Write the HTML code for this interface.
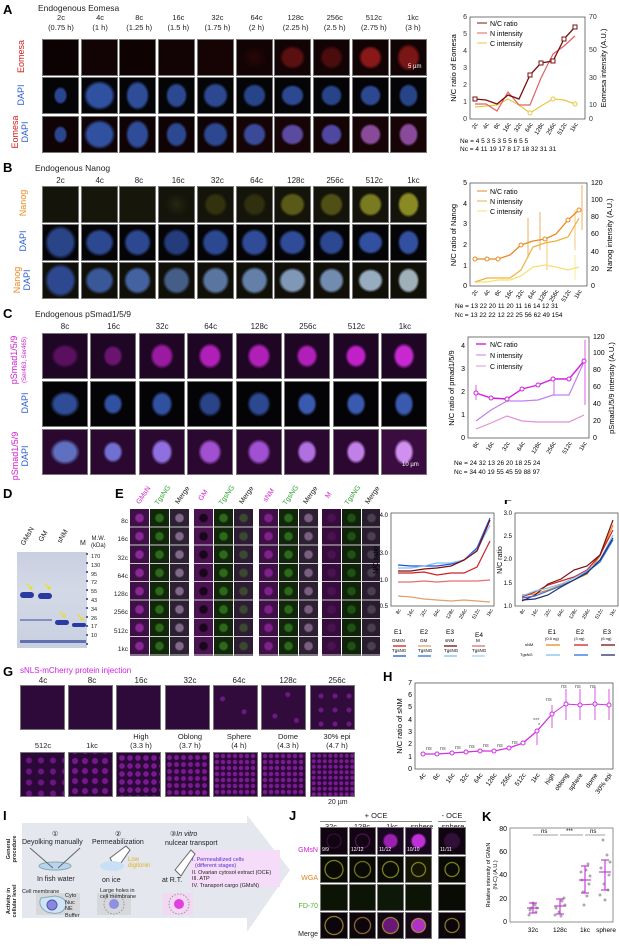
<!DOCTYPE html>
<html><head><meta charset="utf-8"><style>
*{margin:0;padding:0;box-sizing:border-box}
body{width:619px;height:939px;background:#fff;position:relative;overflow:hidden;font-family:"Liberation Sans",sans-serif;color:#222}
.a{position:absolute}
.L{position:absolute;font-weight:bold;font-size:13px;color:#000}
.h{position:absolute;font-size:8px;text-align:center;white-space:nowrap}
.t{position:absolute;background:#080808;border:0.5px solid #777}
.v{position:absolute;transform:rotate(-90deg);transform-origin:center;font-size:9px;white-space:nowrap;text-align:center}
svg text{font-family:"Liberation Sans",sans-serif}
</style></head><body>

<!-- ===== A ===== -->
<div class="L" style="left:3px;top:2px">A</div>
<div class="h" style="left:38px;top:3px;font-size:8.5px">Endogenous Eomesa</div>
<div class="h" style="left:42px;top:13px;width:390px;display:flex;justify-content:space-between;font-size:7.5px;line-height:10px"><span style="width:38px">2c<br>(0.75 h)</span><span style="width:38px">4c<br>(1 h)</span><span style="width:38px">8c<br>(1.25 h)</span><span style="width:38px">16c<br>(1.5 h)</span><span style="width:38px">32c<br>(1.75 h)</span><span style="width:38px">64c<br>(2 h)</span><span style="width:38px">128c<br>(2.25 h)</span><span style="width:38px">256c<br>(2.5 h)</span><span style="width:38px">512c<br>(2.75 h)</span><span style="width:38px">1kc<br>(3 h)</span></div>
<div class="v" style="left:5px;top:52px;width:32px;color:#d02020">Eomesa</div>
<div class="v" style="left:5px;top:90px;width:32px;color:#3060d0">DAPI</div>
<div class="v" style="left:0px;top:122px;width:40px;line-height:10px"><span style="color:#d02020">Eomesa</span><br><span style="color:#3060d0">DAPI</span></div>
<!-- row1 -->
<div class="t" style="left:42px;top:39px;width:37px;height:37px;background:#0d0203"></div>
<div class="t" style="left:81px;top:39px;width:37px;height:37px;background:#120304"></div>
<div class="t" style="left:119px;top:39px;width:37px;height:37px;background:#0f0203"></div>
<div class="t" style="left:158px;top:39px;width:37px;height:37px;background:#120304"></div>
<div class="t" style="left:197px;top:39px;width:37px;height:37px;background:#160405"></div>
<div class="t" style="left:236px;top:39px;width:37px;height:37px;background:radial-gradient(ellipse 13px 12px,#2a0707,#120304)"></div>
<div class="t" style="left:274px;top:39px;width:37px;height:37px;background:radial-gradient(ellipse 13px 12px,#5a1010 70%,#120304)"></div>
<div class="t" style="left:313px;top:39px;width:37px;height:37px;background:radial-gradient(ellipse 12px 12px,#4a0c0c 70%,#120304)"></div>
<div class="t" style="left:352px;top:39px;width:37px;height:37px;background:radial-gradient(ellipse 12px 12px,#8a1818 70%,#120304)"></div>
<div class="t" style="left:390px;top:39px;width:37px;height:37px;background:radial-gradient(ellipse 12px 14px,#7a1616 70%,#120304)"></div>
<!-- row2 DAPI -->
<div class="t" style="left:42px;top:77px;width:37px;height:37px;background:radial-gradient(ellipse 7px 9px,#2a4590 70%,#050508)"></div>
<div class="t" style="left:81px;top:77px;width:37px;height:37px;background:radial-gradient(ellipse 16px 15px,#3050a0 75%,#050508)"></div>
<div class="t" style="left:119px;top:77px;width:37px;height:37px;background:radial-gradient(ellipse 12px 15px,#2e4c98 75%,#050508)"></div>
<div class="t" style="left:158px;top:77px;width:37px;height:37px;background:radial-gradient(ellipse 11px 13px,#2c4890 75%,#050508)"></div>
<div class="t" style="left:197px;top:77px;width:37px;height:37px;background:radial-gradient(ellipse 13px 13px,#2c4890 75%,#050508)"></div>
<div class="t" style="left:236px;top:77px;width:37px;height:37px;background:radial-gradient(ellipse 12px 12px,#284488 75%,#050508)"></div>
<div class="t" style="left:274px;top:77px;width:37px;height:37px;background:radial-gradient(ellipse 12px 11px,#2c4890 75%,#050508)"></div>
<div class="t" style="left:313px;top:77px;width:37px;height:37px;background:radial-gradient(ellipse 11px 11px,#284488 75%,#050508)"></div>
<div class="t" style="left:352px;top:77px;width:37px;height:37px;background:radial-gradient(ellipse 11px 11px,#2c4890 75%,#050508)"></div>
<div class="t" style="left:390px;top:77px;width:37px;height:37px;background:radial-gradient(ellipse 10px 12px,#284488 75%,#050508)"></div>
<!-- row3 merge -->
<div class="t" style="left:42px;top:116px;width:37px;height:37px;background:radial-gradient(ellipse 7px 9px,#2a4590 70%,#100305)"></div>
<div class="t" style="left:81px;top:116px;width:37px;height:37px;background:radial-gradient(ellipse 16px 15px,#3050a0 75%,#100305)"></div>
<div class="t" style="left:119px;top:116px;width:37px;height:37px;background:radial-gradient(ellipse 12px 15px,#2e4c98 75%,#100305)"></div>
<div class="t" style="left:158px;top:116px;width:37px;height:37px;background:radial-gradient(ellipse 11px 13px,#2c4890 75%,#100305)"></div>
<div class="t" style="left:197px;top:116px;width:37px;height:37px;background:radial-gradient(ellipse 13px 13px,#2c4890 75%,#100305)"></div>
<div class="t" style="left:236px;top:116px;width:37px;height:37px;background:radial-gradient(ellipse 12px 12px,#3a4a98 75%,#140406)"></div>
<div class="t" style="left:274px;top:116px;width:37px;height:37px;background:radial-gradient(ellipse 12px 11px,#5a4aa0 75%,#160406)"></div>
<div class="t" style="left:313px;top:116px;width:37px;height:37px;background:radial-gradient(ellipse 11px 11px,#5048a0 75%,#140406)"></div>
<div class="t" style="left:352px;top:116px;width:37px;height:37px;background:radial-gradient(ellipse 11px 11px,#8a4a9a 75%,#160406)"></div>
<div class="t" style="left:390px;top:116px;width:37px;height:37px;background:radial-gradient(ellipse 10px 12px,#8a4a9a 75%,#160406)"></div>
<div class="h" style="left:408px;top:64px;color:#fff;font-size:6px">5 µm</div>

<svg class="a" style="left:440px;top:10px" width="179" height="150">
 <g transform="translate(-440,-10)" font-size="7">
 <rect x="470" y="17" width="115" height="102" fill="none" stroke="#555" stroke-width="0.8"/>
 <g text-anchor="end" fill="#333"><text x="467" y="121">0</text><text x="467" y="104">1</text><text x="467" y="87">2</text><text x="467" y="70">3</text><text x="467" y="53">4</text><text x="467" y="36">5</text><text x="467" y="19">6</text></g>
 <g fill="#333"><text x="589" y="121">0</text><text x="589" y="107">10</text><text x="589" y="80">30</text><text x="589" y="52">50</text><text x="589" y="19">70</text></g>
 <text transform="translate(456,68) rotate(-90)" text-anchor="middle" font-size="7.5">N/C ratio of Eomesa</text>
 <text transform="translate(606,68) rotate(-90)" text-anchor="middle" font-size="7.5">Eomesa intensity (A.U.)</text>
 <polyline fill="none" stroke="#e8c840" stroke-width="1.2" points="475,107 486,106 497,105 508,99 519,105 530,113 541,106 553,99 564,100 575,104"/>
 <polyline fill="none" stroke="#e06060" stroke-width="1.2" points="475,104 486,104 497,111 508,92 519,105 530,105 541,78 553,54 564,46 575,36"/>
 <polyline fill="none" stroke="#7a1010" stroke-width="1.3" points="475,99 486,100 497,104 508,95 519,99 530,75 541,63 553,61 564,39 575,27"/>
 <g fill="#fff" stroke="#7a1010"><rect x="473" y="97" width="4" height="4"/><rect x="528" y="73" width="4" height="4"/><rect x="539" y="61" width="4" height="4"/><rect x="551" y="59" width="4" height="4"/><rect x="562" y="37" width="4" height="4"/><rect x="573" y="25" width="4" height="4"/></g>
 <g fill="#fff" stroke="#e8c840"><circle cx="530" cy="113" r="2"/><circle cx="553" cy="99" r="2"/><circle cx="575" cy="104" r="2"/></g>
 <line x1="477" y1="23" x2="487" y2="23" stroke="#7a1010"/><text x="490" y="26">N/C ratio</text>
 <line x1="477" y1="33" x2="487" y2="33" stroke="#e06060"/><text x="490" y="36">N intensity</text>
 <line x1="477" y1="43" x2="487" y2="43" stroke="#e8c840"/><text x="490" y="46">C intensity</text>
 <g font-size="6" text-anchor="end"><text transform="translate(478,124) rotate(-60)">2c</text><text transform="translate(489,124) rotate(-60)">4c</text><text transform="translate(500,124) rotate(-60)">8c</text><text transform="translate(511,124) rotate(-60)">16c</text><text transform="translate(522,124) rotate(-60)">32c</text><text transform="translate(533,124) rotate(-60)">64c</text><text transform="translate(544,124) rotate(-60)">128c</text><text transform="translate(556,124) rotate(-60)">256c</text><text transform="translate(567,124) rotate(-60)">512c</text><text transform="translate(578,124) rotate(-60)">1kc</text></g>
 <text x="460" y="143" font-size="6.5">Ne = 4   5   3   5   3   5   5   6   5   5</text>
 <text x="460" y="151" font-size="6.5">Nc = 4  11 19 17  8  17 18 32 31 31</text>
 </g>
</svg>

<!-- ===== B ===== -->
<div class="L" style="left:3px;top:160px">B</div>
<div class="h" style="left:35px;top:163px;font-size:8.5px">Endogenous Nanog</div>
<div class="h" style="left:42px;top:176px;width:390px;display:flex;justify-content:space-between;font-size:8px"><span style="width:37px">2c</span><span style="width:37px">4c</span><span style="width:37px">8c</span><span style="width:37px">16c</span><span style="width:37px">32c</span><span style="width:37px">64c</span><span style="width:37px">128c</span><span style="width:37px">256c</span><span style="width:37px">512c</span><span style="width:37px">1kc</span></div>
<div class="v" style="left:7px;top:198px;width:32px;color:#e88a20">Nanog</div>
<div class="v" style="left:7px;top:236px;width:32px;color:#3060d0">DAPI</div>
<div class="v" style="left:2px;top:270px;width:40px;line-height:10px"><span style="color:#e88a20">Nanog</span><br><span style="color:#3060d0">DAPI</span></div>
<div class="t" style="left:42px;top:186px;width:37px;height:37px;background:#14140a"></div>
<div class="t" style="left:81px;top:186px;width:37px;height:37px;background:#16160a"></div>
<div class="t" style="left:119px;top:186px;width:37px;height:37px;background:#16160a"></div>
<div class="t" style="left:158px;top:186px;width:37px;height:37px;background:radial-gradient(ellipse 12px 12px,#262612,#14140a)"></div>
<div class="t" style="left:197px;top:186px;width:37px;height:37px;background:radial-gradient(ellipse 12px 12px,#32320f 70%,#14140a)"></div>
<div class="t" style="left:236px;top:186px;width:37px;height:37px;background:radial-gradient(ellipse 12px 12px,#30300f 70%,#14140a)"></div>
<div class="t" style="left:274px;top:186px;width:37px;height:37px;background:radial-gradient(ellipse 13px 12px,#5a5a18 75%,#14140a)"></div>
<div class="t" style="left:313px;top:186px;width:37px;height:37px;background:radial-gradient(ellipse 12px 12px,#505016 75%,#14140a)"></div>
<div class="t" style="left:352px;top:186px;width:37px;height:37px;background:radial-gradient(ellipse 12px 12px,#7a7a20 75%,#14140a)"></div>
<div class="t" style="left:390px;top:186px;width:37px;height:37px;background:radial-gradient(ellipse 11px 13px,#8a8a24 75%,#14140a)"></div>
<div class="t" style="left:42px;top:224px;width:37px;height:37px;background:radial-gradient(ellipse 16px 17px,#2a4488 75%,#050508)"></div>
<div class="t" style="left:81px;top:224px;width:37px;height:37px;background:radial-gradient(ellipse 15px 14px,#2c4890 75%,#050508)"></div>
<div class="t" style="left:119px;top:224px;width:37px;height:37px;background:radial-gradient(ellipse 14px 14px,#2c4890 75%,#050508)"></div>
<div class="t" style="left:158px;top:224px;width:37px;height:37px;background:radial-gradient(ellipse 14px 14px,#243c7c 75%,#050508)"></div>
<div class="t" style="left:197px;top:224px;width:37px;height:37px;background:radial-gradient(ellipse 14px 14px,#2c4890 75%,#050508)"></div>
<div class="t" style="left:236px;top:224px;width:37px;height:37px;background:radial-gradient(ellipse 14px 14px,#304c98 75%,#050508)"></div>
<div class="t" style="left:274px;top:224px;width:37px;height:37px;background:radial-gradient(ellipse 14px 13px,#304c98 75%,#050508)"></div>
<div class="t" style="left:313px;top:224px;width:37px;height:37px;background:radial-gradient(ellipse 13px 13px,#2c4890 75%,#050508)"></div>
<div class="t" style="left:352px;top:224px;width:37px;height:37px;background:radial-gradient(ellipse 13px 12px,#3250a0 75%,#050508)"></div>
<div class="t" style="left:390px;top:224px;width:37px;height:37px;background:radial-gradient(ellipse 11px 13px,#3250a0 75%,#050508)"></div>
<div class="t" style="left:42px;top:262px;width:37px;height:37px;background:radial-gradient(ellipse 16px 17px,#2e4890 75%,#101008)"></div>
<div class="t" style="left:81px;top:262px;width:37px;height:37px;background:radial-gradient(ellipse 15px 14px,#3a5898 75%,#101008)"></div>
<div class="t" style="left:119px;top:262px;width:37px;height:37px;background:radial-gradient(ellipse 14px 14px,#4462a0 75%,#101008)"></div>
<div class="t" style="left:158px;top:262px;width:37px;height:37px;background:radial-gradient(ellipse 14px 14px,#445e88 75%,#101008)"></div>
<div class="t" style="left:197px;top:262px;width:37px;height:37px;background:radial-gradient(ellipse 14px 14px,#5a76a0 75%,#101008)"></div>
<div class="t" style="left:236px;top:262px;width:37px;height:37px;background:radial-gradient(ellipse 14px 14px,#6480a8 75%,#101008)"></div>
<div class="t" style="left:274px;top:262px;width:37px;height:37px;background:radial-gradient(ellipse 14px 13px,#8098b8 75%,#101008)"></div>
<div class="t" style="left:313px;top:262px;width:37px;height:37px;background:radial-gradient(ellipse 13px 13px,#728cb0 75%,#101008)"></div>
<div class="t" style="left:352px;top:262px;width:37px;height:37px;background:radial-gradient(ellipse 13px 12px,#98acc0 75%,#101008)"></div>
<div class="t" style="left:390px;top:262px;width:37px;height:37px;background:radial-gradient(ellipse 11px 13px,#a0b0b8 75%,#101008)"></div>

<svg class="a" style="left:440px;top:175px" width="179" height="145">
 <g transform="translate(-440,-175)" font-size="7">
 <rect x="470" y="183" width="117" height="103" fill="none" stroke="#555" stroke-width="0.8"/>
 <g text-anchor="end"><text x="467" y="288">0</text><text x="467" y="268">1</text><text x="467" y="247">2</text><text x="467" y="226">3</text><text x="467" y="206">4</text><text x="467" y="185">5</text></g>
 <g><text x="591" y="288">0</text><text x="591" y="271">20</text><text x="591" y="254">40</text><text x="591" y="236">60</text><text x="591" y="219">80</text><text x="591" y="202">100</text><text x="591" y="185">120</text></g>
 <text transform="translate(456,235) rotate(-90)" text-anchor="middle" font-size="7.5">N/C ratio of Nanog</text>
 <text transform="translate(612,235) rotate(-90)" text-anchor="middle" font-size="7.5">Nanog intensity (A.U.)</text>
 <g stroke-width="0.7"><line x1="547" y1="240" x2="547" y2="270" stroke="#f0b040"/><line x1="575" y1="210" x2="575" y2="250" stroke="#f0b040"/><line x1="582" y1="185" x2="582" y2="230" stroke="#e88a20"/><line x1="528" y1="218" x2="528" y2="258" stroke="#e88a20"/><line x1="540" y1="212" x2="540" y2="250" stroke="#e88a20"/><line x1="575" y1="255" x2="575" y2="280" stroke="#f5e070"/></g>
 <polyline fill="none" stroke="#f5e070" stroke-width="1.2" points="475,282 487,282 498,280 510,280 521,276 533,267 545,265 556,267 568,270 579,267"/>
 <polyline fill="none" stroke="#f0b040" stroke-width="1.2" points="475,282 487,278 498,278 510,278 521,270 533,247 545,243 556,241 568,237 579,218"/>
 <polyline fill="none" stroke="#e88a20" stroke-width="1.3" points="475,259 487,259 498,259 510,255 521,245 533,241 545,239 556,234 568,220 579,210"/>
 <g fill="#fff" stroke="#e88a20"><circle cx="475" cy="259" r="2"/><circle cx="487" cy="259" r="2"/><circle cx="498" cy="259" r="2"/><circle cx="521" cy="245" r="2"/><circle cx="545" cy="239" r="2"/><circle cx="568" cy="220" r="2"/><circle cx="579" cy="210" r="2"/></g>
 <line x1="477" y1="191" x2="487" y2="191" stroke="#e88a20"/><text x="490" y="194">N/C ratio</text>
 <line x1="477" y1="201" x2="487" y2="201" stroke="#f0b040"/><text x="490" y="204">N intensity</text>
 <line x1="477" y1="211" x2="487" y2="211" stroke="#f5e070"/><text x="490" y="214">C intensity</text>
 <g font-size="6" text-anchor="end"><text transform="translate(478,291) rotate(-60)">2c</text><text transform="translate(490,291) rotate(-60)">4c</text><text transform="translate(501,291) rotate(-60)">8c</text><text transform="translate(513,291) rotate(-60)">16c</text><text transform="translate(524,291) rotate(-60)">32c</text><text transform="translate(536,291) rotate(-60)">64c</text><text transform="translate(548,291) rotate(-60)">128c</text><text transform="translate(559,291) rotate(-60)">256c</text><text transform="translate(571,291) rotate(-60)">512c</text><text transform="translate(582,291) rotate(-60)">1kc</text></g>
 <text x="455" y="308" font-size="6.5">Ne =  13 22 20 11 20 11 16 14 12 31</text>
 <text x="455" y="317" font-size="6.5">Nc =  13 22 22 12 22 25 56 62 49 154</text>
 </g>
</svg>

<!-- ===== C ===== -->
<div class="L" style="left:3px;top:306px">C</div>
<div class="h" style="left:35px;top:309px;font-size:8.5px">Endogenous pSmad1/5/9</div>
<div class="h" style="left:42px;top:322px;width:386px;display:flex;justify-content:space-between;font-size:8px"><span style="width:46px">8c</span><span style="width:46px">16c</span><span style="width:46px">32c</span><span style="width:46px">64c</span><span style="width:46px">128c</span><span style="width:46px">256c</span><span style="width:46px">512c</span><span style="width:46px">1kc</span></div>
<div class="v" style="left:-10px;top:350px;width:60px;line-height:9px;color:#d020d0">pSmad1/5/9<br><span style="font-size:6px">(Ser463, Ser465)</span></div>
<div class="v" style="left:10px;top:398px;width:30px;color:#3060d0">DAPI</div>
<div class="v" style="left:-8px;top:446px;width:56px;line-height:10px"><span style="color:#d020d0">pSmad1/5/9</span><br><span style="color:#3060d0">DAPI</span></div>
<div class="t" style="left:42px;top:333px;width:46px;height:46px;background:radial-gradient(ellipse 14px 12px,#5a105e 70%,#1e0624)"></div>
<div class="t" style="left:90px;top:333px;width:46px;height:46px;background:radial-gradient(ellipse 10px 11px,#6a1470 70%,#1e0624)"></div>
<div class="t" style="left:139px;top:333px;width:46px;height:46px;background:radial-gradient(ellipse 12px 13px,#9a1aa0 70%,#1e0624)"></div>
<div class="t" style="left:187px;top:333px;width:46px;height:46px;background:radial-gradient(ellipse 12px 13px,#b020b8 70%,#1e0624)"></div>
<div class="t" style="left:236px;top:333px;width:46px;height:46px;background:radial-gradient(ellipse 12px 13px,#b020b8 70%,#1e0624)"></div>
<div class="t" style="left:284px;top:333px;width:46px;height:46px;background:radial-gradient(ellipse 11px 12px,#b020b8 70%,#1e0624)"></div>
<div class="t" style="left:333px;top:333px;width:46px;height:46px;background:radial-gradient(ellipse 11px 12px,#c020c8 70%,#1e0624)"></div>
<div class="t" style="left:381px;top:333px;width:46px;height:46px;background:radial-gradient(ellipse 11px 13px,#c828d0 70%,#1e0624)"></div>
<div class="t" style="left:42px;top:381px;width:46px;height:46px;background:radial-gradient(ellipse 15px 13px,#2f4c96 70%,#040406)"></div>
<div class="t" style="left:90px;top:381px;width:46px;height:46px;background:radial-gradient(ellipse 10px 11px,#3050a0 70%,#040406)"></div>
<div class="t" style="left:139px;top:381px;width:46px;height:46px;background:radial-gradient(ellipse 11px 13px,#3050a0 70%,#040406)"></div>
<div class="t" style="left:187px;top:381px;width:46px;height:46px;background:radial-gradient(ellipse 12px 13px,#2a4488 70%,#040406)"></div>
<div class="t" style="left:236px;top:381px;width:46px;height:46px;background:radial-gradient(ellipse 12px 13px,#2c4890 70%,#040406)"></div>
<div class="t" style="left:284px;top:381px;width:46px;height:46px;background:radial-gradient(ellipse 10px 12px,#3a5ab0 70%,#040406)"></div>
<div class="t" style="left:333px;top:381px;width:46px;height:46px;background:radial-gradient(ellipse 10px 12px,#3a5ab0 70%,#040406)"></div>
<div class="t" style="left:381px;top:381px;width:46px;height:46px;background:radial-gradient(ellipse 10px 13px,#3a5ab0 70%,#040406)"></div>
<div class="t" style="left:42px;top:429px;width:46px;height:46px;background:radial-gradient(ellipse 15px 13px,#6070c0 70%,#2a0830)"></div>
<div class="t" style="left:90px;top:429px;width:46px;height:46px;background:radial-gradient(ellipse 10px 11px,#7070d0 70%,#2a0830)"></div>
<div class="t" style="left:139px;top:429px;width:46px;height:46px;background:radial-gradient(ellipse 11px 13px,#9070e0 70%,#2a0830)"></div>
<div class="t" style="left:187px;top:429px;width:46px;height:46px;background:radial-gradient(ellipse 12px 13px,#a050d0 70%,#2a0830)"></div>
<div class="t" style="left:236px;top:429px;width:46px;height:46px;background:radial-gradient(ellipse 12px 13px,#a050d0 70%,#2a0830)"></div>
<div class="t" style="left:284px;top:429px;width:46px;height:46px;background:radial-gradient(ellipse 10px 12px,#b070e0 70%,#2a0830)"></div>
<div class="t" style="left:333px;top:429px;width:46px;height:46px;background:radial-gradient(ellipse 10px 12px,#c080e8 70%,#2a0830)"></div>
<div class="t" style="left:381px;top:429px;width:46px;height:46px;background:radial-gradient(ellipse 10px 13px,#d090f0 70%,#3a0c40)"></div>
<div class="h" style="left:402px;top:462px;color:#fff;font-size:6px">10 µm</div>

<svg class="a" style="left:440px;top:328px" width="179" height="150">
 <g transform="translate(-440,-328)" font-size="7">
 <rect x="468" y="337" width="121" height="101" fill="none" stroke="#555" stroke-width="0.8"/>
 <g text-anchor="end"><text x="465" y="440">0</text><text x="465" y="417">1</text><text x="465" y="394">2</text><text x="465" y="371">3</text><text x="465" y="348">4</text></g>
 <g><text x="593" y="440">0</text><text x="593" y="423">20</text><text x="593" y="406">40</text><text x="593" y="389">60</text><text x="593" y="372">80</text><text x="593" y="355">100</text><text x="593" y="339">120</text></g>
 <text transform="translate(454,388) rotate(-90)" text-anchor="middle" font-size="7.5">N/C ratio of pmad1/5/9</text>
 <text transform="translate(614,388) rotate(-90)" text-anchor="middle" font-size="7.5">pSmad1/5/9 intensity (A.U.)</text>
 <g stroke-width="0.7" stroke="#d020e0"><line x1="585" y1="340" x2="585" y2="405"/><line x1="476" y1="385" x2="476" y2="400"/><line x1="554" y1="378" x2="554" y2="395"/></g>
 <polyline fill="none" stroke="#e090d0" stroke-width="1.2" points="476,429 491,423 507,416 522,421 538,422 553,422 569,422 584,415"/>
 <polyline fill="none" stroke="#c080f0" stroke-width="1.2" points="476,421 491,410 507,401 522,401 538,400 553,395 569,395 584,362"/>
 <polyline fill="none" stroke="#d020e0" stroke-width="1.4" points="476,393 491,398 507,399 522,389 538,385 553,379 569,379 584,361"/>
 <g fill="#fff" stroke="#d020e0"><circle cx="476" cy="393" r="2"/><circle cx="491" cy="398" r="2"/><circle cx="507" cy="399" r="2"/><circle cx="522" cy="389" r="2"/><circle cx="538" cy="385" r="2"/><circle cx="553" cy="379" r="2"/><circle cx="569" cy="379" r="2"/><circle cx="584" cy="361" r="2"/></g>
 <line x1="476" y1="344" x2="486" y2="344" stroke="#d020e0" stroke-width="1.4"/><text x="490" y="347">N/C ratio</text>
 <line x1="476" y1="355" x2="486" y2="355" stroke="#c080f0"/><text x="490" y="358">N intensity</text>
 <line x1="476" y1="366" x2="486" y2="366" stroke="#e090d0"/><text x="490" y="369">C intensity</text>
 <g font-size="6" text-anchor="end"><text transform="translate(479,443) rotate(-60)">8c</text><text transform="translate(494,443) rotate(-60)">16c</text><text transform="translate(510,443) rotate(-60)">32c</text><text transform="translate(525,443) rotate(-60)">64c</text><text transform="translate(541,443) rotate(-60)">128c</text><text transform="translate(556,443) rotate(-60)">256c</text><text transform="translate(572,443) rotate(-60)">512c</text><text transform="translate(587,443) rotate(-60)">1kc</text></g>
 <text x="454" y="465" font-size="6.5">Ne =  24   32   13   26   20   18   25   24</text>
 <text x="454" y="474" font-size="6.5">Nc =  34   40   19   55   45   59   88   97</text>
 </g>
</svg>

<!-- ===== D ===== -->
<div class="L" style="left:3px;top:486px">D</div>
<div class="a" style="left:17px;top:552px;width:70px;height:96px;background:linear-gradient(#c8cfe0,#d4d9e6 40%,#c8d0e0)"></div>
<div class="a" style="left:20px;top:592px;width:14px;height:6px;background:#2a3aa0;border-radius:3px"></div>
<div class="a" style="left:38px;top:593px;width:14px;height:6px;background:#2a3aa0;border-radius:3px"></div>
<div class="a" style="left:55px;top:620px;width:14px;height:5px;background:#2a3aa0;border-radius:3px"></div>
<div class="a" style="left:72px;top:623px;width:14px;height:4px;background:#2a3aa0;border-radius:3px"></div>
<div class="a" style="left:20px;top:640px;width:66px;height:3px;background:#6070b0"></div>
<div class="a" style="left:20px;top:619px;width:32px;height:2px;background:#8090c0"></div>
<div class="a" style="left:86px;top:553px;width:2px;height:94px;background:repeating-linear-gradient(#5060a0 0 2px,transparent 2px 9px)"></div>
<div class="h" style="left:25px;top:580px;color:#f0e000;font-size:11px">➘</div>
<div class="h" style="left:43px;top:580px;color:#f0e000;font-size:11px">➘</div>
<div class="h" style="left:58px;top:608px;color:#f0e000;font-size:11px">➘</div>
<div class="h" style="left:76px;top:611px;color:#f0e000;font-size:11px">➘</div>
<div class="a" style="left:18px;top:533px;font-size:7px;transform:rotate(-60deg)">GMsN</div>
<div class="a" style="left:38px;top:533px;font-size:7px;transform:rotate(-60deg)">GM</div>
<div class="a" style="left:56px;top:533px;font-size:7px;transform:rotate(-60deg)">sNM</div>
<div class="h" style="left:80px;top:540px;font-size:7px">M</div>
<div class="h" style="left:91px;top:536px;font-size:6px;line-height:7px">M.W.<br>(kDa)</div>
<div class="a" style="left:91px;top:553px;font-size:5.5px;line-height:8.8px">170<br>130<br>95<br>72<br>55<br>43<br>34<br>26<br>17<br>10</div>

<!-- ===== E ===== -->
<div class="L" style="left:115px;top:486px">E</div>
<div class="a" style="left:128px;top:486px;width:260px;height:20px;font-size:7px">
<span class="a" style="left:6px;top:6px;transform:rotate(-55deg);color:#d020d0">GMsN</span><span class="a" style="left:24px;top:6px;transform:rotate(-55deg);color:#30a030">TgsNG</span><span class="a" style="left:45px;top:6px;transform:rotate(-55deg)">Merge</span>
<span class="a" style="left:70px;top:6px;transform:rotate(-55deg);color:#d020d0">GM</span><span class="a" style="left:88px;top:6px;transform:rotate(-55deg);color:#30a030">TgsNG</span><span class="a" style="left:109px;top:6px;transform:rotate(-55deg)">Merge</span>
<span class="a" style="left:134px;top:6px;transform:rotate(-55deg);color:#d020d0">sNM</span><span class="a" style="left:152px;top:6px;transform:rotate(-55deg);color:#30a030">TgsNG</span><span class="a" style="left:173px;top:6px;transform:rotate(-55deg)">Merge</span>
<span class="a" style="left:198px;top:6px;transform:rotate(-55deg);color:#d020d0">M</span><span class="a" style="left:214px;top:6px;transform:rotate(-55deg);color:#30a030">TgsNG</span><span class="a" style="left:235px;top:6px;transform:rotate(-55deg)">Merge</span></div>
<div class="a" style="left:108px;top:513px;font-size:6.5px;line-height:18.3px;text-align:right;width:20px">8c<br>16c<br>32c<br>64c<br>128c<br>256c<br>512c<br>1kc</div>
<div class="a" style="left:130px;top:509px;width:250px;height:147px;
background:
radial-gradient(ellipse 5px 5px at 9.5px 9px,#8a2896 70%,transparent) 0 0/20px 18.3px repeat-y,
linear-gradient(#3e1046,#3e1046) 0 0/19px 100% no-repeat,
radial-gradient(ellipse 5px 5px at 9.5px 9px,#2a6a18 70%,transparent) 20px 0/20px 18.3px repeat-y,
linear-gradient(#12260c,#12260c) 20px 0/19px 100% no-repeat,
radial-gradient(ellipse 5px 5px at 9.5px 9px,#806a88 70%,transparent) 40px 0/20px 18.3px repeat-y,
linear-gradient(#2c2032,#2c2032) 40px 0/19px 100% no-repeat,
radial-gradient(ellipse 5px 5px at 9.5px 9px,#18061a 70%,transparent) 64px 0/20px 18.3px repeat-y,
linear-gradient(#4a1250,#4a1250) 64px 0/19px 100% no-repeat,
radial-gradient(ellipse 5px 5px at 9.5px 9px,#2a6a18 70%,transparent) 84px 0/20px 18.3px repeat-y,
linear-gradient(#12260c,#12260c) 84px 0/19px 100% no-repeat,
radial-gradient(ellipse 5px 5px at 9.5px 9px,#3a4a30 70%,transparent) 104px 0/20px 18.3px repeat-y,
linear-gradient(#2e1c34,#2e1c34) 104px 0/19px 100% no-repeat,
radial-gradient(ellipse 5px 5px at 9.5px 9px,#80208c 70%,transparent) 129px 0/20px 18.3px repeat-y,
linear-gradient(#3e1046,#3e1046) 129px 0/19px 100% no-repeat,
radial-gradient(ellipse 5px 5px at 9.5px 9px,#2a6a18 70%,transparent) 149px 0/20px 18.3px repeat-y,
linear-gradient(#12260c,#12260c) 149px 0/19px 100% no-repeat,
radial-gradient(ellipse 5px 5px at 9.5px 9px,#7a6080 70%,transparent) 169px 0/20px 18.3px repeat-y,
linear-gradient(#2c2032,#2c2032) 169px 0/19px 100% no-repeat,
radial-gradient(ellipse 5px 5px at 9.5px 9px,#4a1250 70%,transparent) 192px 0/20px 18.3px repeat-y,
linear-gradient(#360c3c,#360c3c) 192px 0/19px 100% no-repeat,
radial-gradient(ellipse 5px 5px at 9.5px 9px,#1e5212 70%,transparent) 212px 0/20px 18.3px repeat-y,
linear-gradient(#10220a,#10220a) 212px 0/19px 100% no-repeat,
radial-gradient(ellipse 5px 5px at 9.5px 9px,#4a4050 70%,transparent) 232px 0/20px 18.3px repeat-y,
linear-gradient(#281c2e,#281c2e) 232px 0/19px 100% no-repeat"></div>
<div class="a" style="left:130px;top:509px;width:250px;height:147px;background:repeating-linear-gradient(transparent 0 17.3px,#ccc 17.3px 18.3px)"></div>
<div class="a" style="left:189px;top:509px;width:5px;height:147px;background:#fff"></div>
<div class="a" style="left:253px;top:509px;width:6px;height:147px;background:#fff"></div>
<div class="a" style="left:318px;top:509px;width:4px;height:147px;background:#fff"></div>

<svg class="a" style="left:370px;top:500px" width="249" height="160">
 <g transform="translate(-370,-500)" font-size="6">
 <rect x="391" y="513" width="103" height="93" fill="none" stroke="#555" stroke-width="0.8"/>
 <g text-anchor="end"><text x="388" y="608">0.5</text><text x="388" y="582">1.0</text><text x="388" y="555">3.0</text><text x="388" y="517">4.0</text></g>
 <text transform="translate(378,560) rotate(-90)" text-anchor="middle" font-size="7">N/C ratio</text>
 <polyline fill="none" stroke="#e0a070" stroke-width="1.2" points="398,596 411,597 424,599 437,600 451,601 464,600 477,601 490,602"/>
 <polyline fill="none" stroke="#e07070" stroke-width="1.2" points="398,582 411,582 424,581 437,582 451,581 464,581 477,581 490,580"/>
 <polyline fill="none" stroke="#d02020" stroke-width="1.2" points="398,573 411,573 424,572 437,575 451,573 464,573 477,567 490,541"/>
 <polyline fill="none" stroke="#2050e0" stroke-width="1.2" points="398,565 411,566 424,566 437,566 451,564 464,560 477,548 490,518"/>
 <polyline fill="none" stroke="#80c0f0" stroke-width="1.2" points="398,568 411,568 424,566 437,563 451,563 464,560 477,550 490,525"/>
 <polyline fill="none" stroke="#7a1010" stroke-width="1.3" points="398,571 411,571 424,569 437,568 451,566 464,560 477,551 490,520"/>
 <g font-size="5" text-anchor="end"><text transform="translate(401,610) rotate(-60)">8c</text><text transform="translate(414,610) rotate(-60)">16c</text><text transform="translate(427,610) rotate(-60)">32c</text><text transform="translate(440,610) rotate(-60)">64c</text><text transform="translate(454,610) rotate(-60)">128c</text><text transform="translate(467,610) rotate(-60)">256c</text><text transform="translate(480,610) rotate(-60)">512c</text><text transform="translate(493,610) rotate(-60)">1kc</text></g>
 <g font-size="6.5"><text x="394" y="634">E1</text><text x="420" y="634">E2</text><text x="446" y="634">E3</text><text x="475" y="637">E4</text></g>
 <g font-size="4.5"><text x="392" y="642">GMsN</text><text x="420" y="642">GM</text><text x="445" y="642">sNM</text><text x="476" y="642">M</text><text x="392" y="652">TgsNG</text><text x="418" y="652">TgsNG</text><text x="444" y="652">TgsNG</text><text x="472" y="652">TgsNG</text></g>
 <g stroke-width="1.3"><line x1="393" y1="646" x2="406" y2="646" stroke="#d02020"/><line x1="418" y1="646" x2="431" y2="646" stroke="#e0a070"/><line x1="444" y1="646" x2="457" y2="646" stroke="#7a1010"/><line x1="472" y1="646" x2="485" y2="646" stroke="#e07070"/><line x1="393" y1="656" x2="406" y2="656" stroke="#2050e0"/><line x1="418" y1="656" x2="431" y2="656" stroke="#3070e0"/><line x1="444" y1="656" x2="457" y2="656" stroke="#80c0f0"/><line x1="472" y1="656" x2="485" y2="656" stroke="#a0d0f0"/></g>
 <text x="504" y="504" font-size="13" font-weight="bold">F</text>
 <rect x="515" y="513" width="103" height="93" fill="none" stroke="#555" stroke-width="0.8"/>
 <g text-anchor="end"><text x="512" y="608">1.0</text><text x="512" y="585">1.5</text><text x="512" y="561">2.0</text><text x="512" y="538">2.5</text><text x="512" y="515">3.0</text></g>
 <text transform="translate(502,560) rotate(-90)" text-anchor="middle" font-size="7">N/C ratio</text>
 <polyline fill="none" stroke="#e88a20" stroke-width="1.2" points="522,595 535,594 548,590 561,585 574,580 587,574 600,556 613,525"/>
 <polyline fill="none" stroke="#d02020" stroke-width="1.2" points="522,597 535,592 548,585 561,581 574,577 587,570 600,555 613,530"/>
 <polyline fill="none" stroke="#7a1010" stroke-width="1.2" points="522,601 535,595 548,584 561,579 574,570 587,566 600,555 613,520"/>
 <polyline fill="none" stroke="#80c0f0" stroke-width="1.2" points="522,596 535,591 548,588 561,584 574,578 587,571 600,560 613,535"/>
 <polyline fill="none" stroke="#3070e0" stroke-width="1.2" points="522,598 535,596 548,591 561,586 574,580 587,572 600,562 613,540"/>
 <polyline fill="none" stroke="#1a3070" stroke-width="1.2" points="522,600 535,599 548,595 561,587 574,580 587,573 600,560 613,538"/>
 <g font-size="5" text-anchor="end"><text transform="translate(525,610) rotate(-60)">8c</text><text transform="translate(538,610) rotate(-60)">16c</text><text transform="translate(551,610) rotate(-60)">32c</text><text transform="translate(564,610) rotate(-60)">64c</text><text transform="translate(577,610) rotate(-60)">128c</text><text transform="translate(590,610) rotate(-60)">256c</text><text transform="translate(603,610) rotate(-60)">512c</text><text transform="translate(616,610) rotate(-60)">1kc</text></g>
 <g font-size="6.5"><text x="548" y="634">E1</text><text x="576" y="634">E2</text><text x="603" y="634">E3</text></g>
 <g font-size="4"><text x="545" y="640">(0.5 ng)</text><text x="574" y="640">(3 ng)</text><text x="601" y="640">(6 ng)</text><text x="525" y="646">sNM</text><text x="520" y="656">TgsNG</text></g>
 <g stroke-width="1.3"><line x1="546" y1="645" x2="560" y2="645" stroke="#e88a20"/><line x1="574" y1="645" x2="588" y2="645" stroke="#d02020"/><line x1="601" y1="645" x2="615" y2="645" stroke="#7a1010"/><line x1="546" y1="655" x2="560" y2="655" stroke="#80c0f0"/><line x1="574" y1="655" x2="588" y2="655" stroke="#3070e0"/><line x1="601" y1="655" x2="615" y2="655" stroke="#1a3070"/></g>
 </g>
</svg>

<!-- ===== G ===== -->
<div class="L" style="left:3px;top:664px">G</div>
<div class="h" style="left:20px;top:666px;color:#d020e0;font-size:8px">sNLS-mCherry protein injection</div>
<div class="h" style="left:20px;top:676px;width:340px;display:flex;justify-content:space-between;font-size:8px"><span style="width:46px">4c</span><span style="width:46px">8c</span><span style="width:46px">16c</span><span style="width:46px">32c</span><span style="width:46px">64c</span><span style="width:46px">128c</span><span style="width:46px">256c</span></div>
<div class="t" style="left:20px;top:685px;width:45px;height:45px;background:#2e0a3a"></div>
<div class="t" style="left:68px;top:685px;width:45px;height:45px;background:#2e0a3a"></div>
<div class="t" style="left:116px;top:685px;width:45px;height:45px;background:#2e0a3a"></div>
<div class="t" style="left:165px;top:685px;width:45px;height:45px;background:#2e0a3a"></div>
<div class="t" style="left:213px;top:685px;width:45px;height:45px;background:radial-gradient(circle at 20% 30%,#6a1a80 2px,transparent 3px),radial-gradient(circle at 70% 60%,#6a1a80 2px,transparent 3px),#300b3c"></div>
<div class="t" style="left:261px;top:685px;width:45px;height:45px;background:radial-gradient(circle at 60% 20%,#6a1a80 2px,transparent 3px),radial-gradient(circle at 30% 70%,#6a1a80 2px,transparent 3px),radial-gradient(circle at 80% 80%,#6a1a80 2px,transparent 3px),#300b3c"></div>
<div class="t" style="left:310px;top:685px;width:45px;height:45px;background:radial-gradient(circle,#6a1a80 2px,transparent 3px) 3px 3px/14px 14px,#300b3c"></div>
<div class="h" style="left:20px;top:732px;width:340px;display:flex;justify-content:space-between;font-size:7.5px;line-height:9px"><span style="width:46px"><br>512c</span><span style="width:46px"><br>1kc</span><span style="width:46px">High<br>(3.3 h)</span><span style="width:46px">Oblong<br>(3.7 h)</span><span style="width:46px">Sphere<br>(4 h)</span><span style="width:46px">Dome<br>(4.3 h)</span><span style="width:46px">30% epi<br>(4.7 h)</span></div>
<div class="t" style="left:20px;top:752px;width:45px;height:45px;background:radial-gradient(circle,#6a1680 2.5px,transparent 3.5px) 2px 2px/12px 11px,#2c0838"></div>
<div class="t" style="left:68px;top:752px;width:45px;height:45px;background:radial-gradient(circle,#74188a 2.5px,transparent 3.5px) 1px 3px/10px 10px,#2c0838"></div>
<div class="t" style="left:116px;top:752px;width:45px;height:45px;background:radial-gradient(circle,#7a1a92 2.3px,transparent 3.2px) 1px 1px/8px 8px,#2c0838"></div>
<div class="t" style="left:165px;top:752px;width:45px;height:45px;background:radial-gradient(circle,#7a1a92 2px,transparent 2.9px) 0 1px/7px 7px,#2c0838"></div>
<div class="t" style="left:213px;top:752px;width:45px;height:45px;background:radial-gradient(circle,#7a1a92 1.8px,transparent 2.6px) 0 0/6px 6px,#2c0838"></div>
<div class="t" style="left:261px;top:752px;width:45px;height:45px;background:radial-gradient(circle,#7a1a92 1.8px,transparent 2.6px) 0 0/6px 6px,#2c0838"></div>
<div class="t" style="left:310px;top:752px;width:45px;height:45px;background:radial-gradient(circle,#7a1a92 1.6px,transparent 2.4px) 0 0/5.5px 5.5px,#2c0838"></div>
<div class="h" style="left:328px;top:799px;font-size:7px">20 µm</div>

<!-- ===== H ===== -->
<svg class="a" style="left:380px;top:665px" width="239" height="140">
 <g transform="translate(-380,-665)" font-size="7">
 <text x="383" y="681" font-size="13" font-weight="bold">H</text>
 <rect x="415" y="683" width="198" height="86" fill="none" stroke="#555" stroke-width="0.8"/>
 <g text-anchor="end"><text x="412" y="771">0</text><text x="412" y="759">1</text><text x="412" y="746">2</text><text x="412" y="734">3</text><text x="412" y="722">4</text><text x="412" y="709">5</text><text x="412" y="697">6</text><text x="412" y="685">7</text></g>
 <text transform="translate(402,726) rotate(-90)" text-anchor="middle" font-size="7.5">N/C ratio of sNM</text>
 <g stroke="#d030e0" stroke-width="0.8"><line x1="537" y1="730" x2="537" y2="745"/><line x1="552" y1="705" x2="552" y2="728"/><line x1="566" y1="689" x2="566" y2="720"/><line x1="580" y1="689" x2="580" y2="720"/><line x1="595" y1="687" x2="595" y2="720"/><line x1="609" y1="689" x2="609" y2="720"/></g>
 <polyline fill="none" stroke="#d030e0" stroke-width="1.3" points="423,754 437,754 452,753 466,752 480,751 494,751 509,748 523,743 537,731 552,714"/>
 <polyline fill="none" stroke="#d030e0" stroke-width="1" points="552,714 566,704 580,705 595,704 609,705"/>
 <g fill="#fff" stroke="#d030e0"><circle cx="423" cy="754" r="2"/><circle cx="437" cy="754" r="2"/><circle cx="452" cy="753" r="2"/><circle cx="466" cy="752" r="2"/><circle cx="480" cy="751" r="2"/><circle cx="494" cy="751" r="2"/><circle cx="509" cy="748" r="2"/><circle cx="523" cy="743" r="2"/><circle cx="537" cy="731" r="2"/><circle cx="552" cy="714" r="2"/><circle cx="566" cy="704" r="2"/><circle cx="580" cy="705" r="2"/><circle cx="595" cy="704" r="2"/><circle cx="609" cy="705" r="2"/></g>
 <g font-size="5.5" fill="#555"><text x="426" y="750">ns</text><text x="440" y="750">ns</text><text x="455" y="749">ns</text><text x="469" y="748">ns</text><text x="483" y="747">ns</text><text x="497" y="747">ns</text><text x="512" y="744">ns</text><text x="538" y="727">*</text><text x="533" y="722">***</text><text x="546" y="701">ns</text><text x="561" y="688">ns</text><text x="575" y="688">ns</text><text x="590" y="688">ns</text></g>
 <g font-size="6.5" text-anchor="end"><text transform="translate(426,775) rotate(-55)">4c</text><text transform="translate(440,775) rotate(-55)">8c</text><text transform="translate(455,775) rotate(-55)">16c</text><text transform="translate(469,775) rotate(-55)">32c</text><text transform="translate(483,775) rotate(-55)">64c</text><text transform="translate(497,775) rotate(-55)">128c</text><text transform="translate(512,775) rotate(-55)">256c</text><text transform="translate(526,775) rotate(-55)">512c</text><text transform="translate(540,775) rotate(-55)">1kc</text><text transform="translate(555,775) rotate(-55)">high</text><text transform="translate(569,775) rotate(-55)">oblong</text><text transform="translate(583,775) rotate(-55)">sphere</text><text transform="translate(598,775) rotate(-55)">dome</text><text transform="translate(612,775) rotate(-55)">30% epi</text></g>
 </g>
</svg>

<!-- ===== I ===== -->
<div class="L" style="left:3px;top:808px">I</div>
<svg class="a" style="left:0;top:810px" width="300" height="129">
 <g transform="translate(0,-810)">
 <polygon points="22,823 247,823 247,815 290,870 247,932 247,918 22,918" fill="#e4e8ee"/>
 <rect x="36" y="893" width="44" height="22" fill="#d6d8dc"/>
 <rect x="97" y="893" width="34" height="22" fill="#d6d8dc"/>
 <rect x="163" y="893" width="30" height="22" fill="#f3d8f3"/>
 <rect x="190" y="850" width="90" height="37" fill="#f5dcf8"/>
 <ellipse cx="55" cy="866" rx="16" ry="4" fill="#b8d4f0" stroke="#8aa"/>
 <line x1="30" y1="848" x2="53" y2="868" stroke="#666"/><line x1="80" y1="848" x2="58" y2="868" stroke="#666"/>
 <path d="M41,898 q-4,8 6,14 q14,4 18,-4 q4,-10 -10,-12 z" fill="#cfe4f6" stroke="#8ab"/>
 <circle cx="52" cy="905" r="5" fill="#8888e0" stroke="#55a"/>
 <circle cx="114" cy="904" r="5" fill="#9090e0"/><circle cx="114" cy="904" r="10" fill="none" stroke="#999" stroke-dasharray="1.5 1.5"/>
 <circle cx="179" cy="904" r="5" fill="#e040e0"/><circle cx="179" cy="904" r="10" fill="none" stroke="#999" stroke-dasharray="1.5 1.5"/>
 <path d="M110,858 l16,-12 l4,4 l-14,20 z" fill="#fff" stroke="#666"/><path d="M112,866 l8,-4 l-3,6z" fill="#f0c040"/>
 <ellipse cx="112" cy="866" rx="12" ry="5" fill="#c8e0f4"/>
 <path d="M175,870 l16,-20 l4,4 l-14,22 z" fill="#fff" stroke="#666"/>
 </g>
</svg>
<div class="a" style="left:22px;top:831px;font-size:7px;line-height:8px;width:260px">
 <span class="a" style="left:30px;top:0">①</span><span class="a" style="left:93px;top:0">②</span><span class="a" style="left:148px;top:0">③<i>In vitro</i></span>
 <span class="a" style="left:0;top:8px;white-space:nowrap">Deyolking manually</span><span class="a" style="left:70px;top:8px;white-space:nowrap">Permeabilization</span><span class="a" style="left:143px;top:9px;white-space:nowrap">nulcear transport</span>
 <span class="a" style="left:15px;top:45px;white-space:nowrap">In fish water</span><span class="a" style="left:80px;top:46px">on ice</span><span class="a" style="left:140px;top:46px;white-space:nowrap">at R.T.</span>
 <span class="a" style="left:106px;top:26px;color:#e0b020;font-size:6px;line-height:6px">Low<br>digitonin</span>
 <span class="a" style="left:170px;top:26px;font-size:5.5px;line-height:6.4px;white-space:nowrap"><span style="color:#5030d0">I. Permeabilized cells<br>&nbsp;&nbsp;(different stages)</span><br>II. Ovarian cytosol extract (OCE)<br>III. ATP<br>IV. Transport cargo (GMsN)</span>
 <span class="a" style="left:0;top:57px;font-size:5.5px;white-space:nowrap">Cell membrane</span><span class="a" style="left:43px;top:62px;font-size:5.5px;line-height:6.5px">Cyto<br>Nuc<br>NE<br>Buffer</span>
 <span class="a" style="left:78px;top:57px;font-size:5.5px;line-height:6px">Large holes in<br>cell membrane</span>
</div>
<div class="v" style="left:-8px;top:843px;width:40px;font-size:5.5px;line-height:6px;font-weight:bold">General<br>procedure</div>
<div class="v" style="left:-8px;top:895px;width:40px;font-size:5.5px;line-height:6px;font-weight:bold">Activity in<br>cellular level</div>

<!-- ===== J ===== -->
<div class="L" style="left:289px;top:808px">J</div>
<div class="h" style="left:320px;top:811px;width:112px;font-size:7.5px">+ OCE</div>
<div class="a" style="left:320px;top:821px;width:112px;height:1px;background:#888"></div>
<div class="h" style="left:437px;top:811px;width:30px;font-size:7.5px">- OCE</div>
<div class="a" style="left:438px;top:821px;width:28px;height:1px;background:#888"></div>
<div class="h" style="left:316px;top:822px;width:152px;display:flex;justify-content:space-between;font-size:7.5px"><span style="width:30px">32c</span><span style="width:30px">128c</span><span style="width:28px">1kc</span><span style="width:30px">sphere</span><span style="width:30px">sphere</span></div>
<div class="a" style="left:290px;top:837px;font-size:7px;line-height:28px;text-align:right;width:28px"><span style="color:#d020d0">GMsN</span><br><span style="color:#e08820">WGA</span><br><span style="color:#50b030">FD-70</span><br>Merge</div>
<div class="t" style="left:320px;top:827px;width:28px;height:28px;background:radial-gradient(circle,transparent 6px,#40104a 7px,transparent 8px),#100410"></div>
<div class="t" style="left:349px;top:827px;width:27px;height:28px;background:radial-gradient(circle,transparent 6px,#5a1a66 7px,transparent 8px),#120412"></div>
<div class="t" style="left:377px;top:827px;width:27px;height:28px;background:radial-gradient(circle,#9a20b0 6px,transparent 8px),#1a0620"></div>
<div class="t" style="left:405px;top:827px;width:27px;height:28px;background:radial-gradient(circle,#c030d8 6px,transparent 8px),#1a0620"></div>
<div class="t" style="left:438px;top:827px;width:28px;height:28px;background:radial-gradient(circle,#301038 7px,transparent 9px),#100410"></div>
<div class="t" style="left:320px;top:856px;width:28px;height:27px;background:radial-gradient(circle,transparent 8px,#a0a020 9px,transparent 10px),#0a0a04"></div>
<div class="t" style="left:349px;top:856px;width:27px;height:27px;background:radial-gradient(circle,transparent 7px,#909020 8px,transparent 9px),#0a0a04"></div>
<div class="t" style="left:377px;top:856px;width:27px;height:27px;background:radial-gradient(circle,transparent 7px,#a0a020 8px,transparent 9px),#0a0a04"></div>
<div class="t" style="left:405px;top:856px;width:27px;height:27px;background:radial-gradient(circle,transparent 6px,#a0a020 7px,transparent 8px),#141404"></div>
<div class="t" style="left:438px;top:856px;width:28px;height:27px;background:radial-gradient(circle,transparent 6px,#a0a020 7px,transparent 8px),#0a0a04"></div>
<div class="t" style="left:320px;top:884px;width:28px;height:27px;background:#0c1406"></div>
<div class="t" style="left:349px;top:884px;width:27px;height:27px;background:#0c1406"></div>
<div class="t" style="left:377px;top:884px;width:27px;height:27px;background:#0e1808"></div>
<div class="t" style="left:405px;top:884px;width:27px;height:27px;background:#0c1406"></div>
<div class="t" style="left:438px;top:884px;width:28px;height:27px;background:#080c05"></div>
<div class="t" style="left:320px;top:912px;width:28px;height:27px;background:radial-gradient(circle,transparent 8px,#b0a030 9px,transparent 10px),#0c060c"></div>
<div class="t" style="left:349px;top:912px;width:27px;height:27px;background:radial-gradient(circle,transparent 7px,#b08040 8px,transparent 9px),#0c060c"></div>
<div class="t" style="left:377px;top:912px;width:27px;height:27px;background:radial-gradient(circle,#6a1878 7px,#b0a030 8px,transparent 9px),#120812"></div>
<div class="t" style="left:405px;top:912px;width:27px;height:27px;background:radial-gradient(circle,#b030c8 6px,#b0a030 7px,transparent 8px),#160816"></div>
<div class="t" style="left:438px;top:912px;width:28px;height:27px;background:radial-gradient(circle,transparent 6px,#a0a020 7px,transparent 8px),#0c060c"></div>
<div class="a" style="left:322px;top:847px;font-size:5px;color:#fff">9/9</div>
<div class="a" style="left:351px;top:847px;font-size:5px;color:#fff">12/12</div>
<div class="a" style="left:379px;top:847px;font-size:5px;color:#fff">11/12</div>
<div class="a" style="left:407px;top:847px;font-size:5px;color:#fff">10/10</div>
<div class="a" style="left:440px;top:847px;font-size:5px;color:#fff">11/11</div>

<!-- ===== K ===== -->
<svg class="a" style="left:475px;top:808px" width="144" height="131">
 <g transform="translate(-475,-808)" font-size="7">
 <text x="482" y="821" font-size="13" font-weight="bold">K</text>
 <rect x="510" y="828" width="103" height="94" fill="none" stroke="#777" stroke-width="0.8"/>
 <g text-anchor="end"><text x="507" y="924">0</text><text x="507" y="901">20</text><text x="507" y="877">40</text><text x="507" y="854">60</text><text x="507" y="831">80</text></g>
 <text transform="translate(490,875) rotate(-90)" text-anchor="middle" font-size="5.5">Relative intensity of GMsN</text>
 <text transform="translate(497,875) rotate(-90)" text-anchor="middle" font-size="5.5">(N-C) (A.U.)</text>
 <g stroke="#444" stroke-width="0.6"><line x1="533" y1="835" x2="558" y2="835"/><line x1="560" y1="835" x2="583" y2="835"/><line x1="585" y1="835" x2="605" y2="835"/></g>
 <g font-size="6"><text x="541" y="833">ns</text><text x="566" y="833">***</text><text x="590" y="833">ns</text></g>
 <g fill="#aaa">
 <circle cx="531" cy="908" r="1.5"/><circle cx="535" cy="905" r="1.5"/><circle cx="530" cy="910" r="1.5"/><circle cx="536" cy="912" r="1.5"/><circle cx="533" cy="903" r="1.5"/><circle cx="529" cy="915" r="1.5"/><circle cx="537" cy="908" r="1.5"/>
 <circle cx="556" cy="908" r="1.5"/><circle cx="562" cy="901" r="1.5"/><circle cx="559" cy="912" r="1.5"/><circle cx="565" cy="905" r="1.5"/><circle cx="555" cy="915" r="1.5"/><circle cx="561" cy="916" r="1.5"/><circle cx="564" cy="898" r="1.5"/>
 <circle cx="582" cy="880" r="1.5"/><circle cx="586" cy="870" r="1.5"/><circle cx="589" cy="884" r="1.5"/><circle cx="583" cy="892" r="1.5"/><circle cx="588" cy="864" r="1.5"/><circle cx="581" cy="872" r="1.5"/><circle cx="587" cy="896" r="1.5"/><circle cx="584" cy="905" r="1.5"/><circle cx="590" cy="876" r="1.5"/>
 <circle cx="603" cy="840" r="1.5"/><circle cx="607" cy="855" r="1.5"/><circle cx="601" cy="868" r="1.5"/><circle cx="609" cy="875" r="1.5"/><circle cx="604" cy="884" r="1.5"/><circle cx="600" cy="895" r="1.5"/><circle cx="608" cy="890" r="1.5"/><circle cx="605" cy="900" r="1.5"/><circle cx="610" cy="862" r="1.5"/>
 </g>
 <g stroke="#c030d0" stroke-width="1.1" fill="none">
 <line x1="533" y1="903" x2="533" y2="913"/><line x1="527" y1="908" x2="539" y2="908"/><line x1="529" y1="903" x2="537" y2="903"/><line x1="529" y1="913" x2="537" y2="913"/>
 <line x1="560" y1="899" x2="560" y2="914"/><line x1="554" y1="906" x2="566" y2="906"/><line x1="556" y1="899" x2="564" y2="899"/><line x1="556" y1="914" x2="564" y2="914"/>
 <line x1="585" y1="866" x2="585" y2="893"/><line x1="579" y1="880" x2="591" y2="880"/><line x1="581" y1="866" x2="589" y2="866"/><line x1="581" y1="893" x2="589" y2="893"/>
 <line x1="605" y1="860" x2="605" y2="890"/><line x1="599" y1="872" x2="611" y2="872"/><line x1="601" y1="860" x2="609" y2="860"/><line x1="601" y1="890" x2="609" y2="890"/>
 </g>
 <g text-anchor="middle" font-size="6.5"><text x="533" y="932">32c</text><text x="560" y="932">128c</text><text x="585" y="932">1kc</text><text x="606" y="932">sphere</text></g>
 </g>
</svg>
</body></html>
